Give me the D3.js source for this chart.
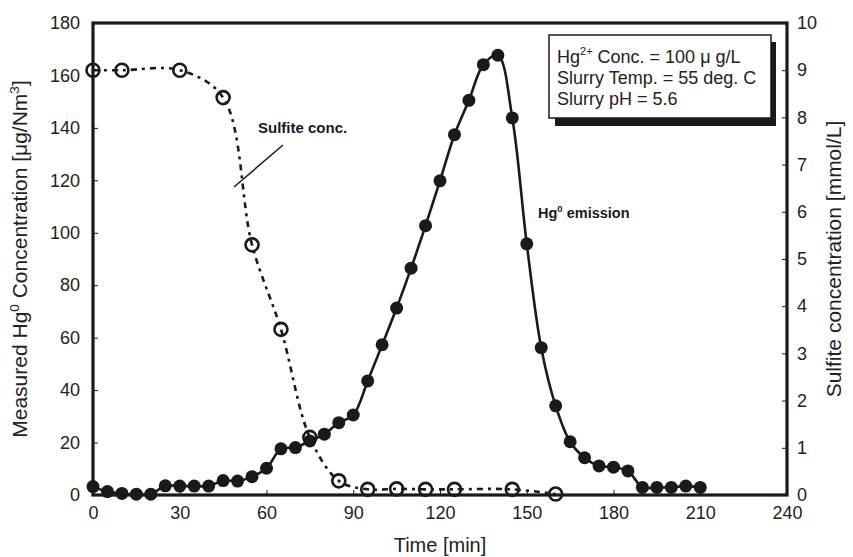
<!DOCTYPE html>
<html>
<head>
<meta charset="utf-8">
<script src="https://cdn.jsdelivr.net/npm/d3@7"></script>
<style>
	body { margin: 0; background: #fff; }
	svg { display: block; font-family: "Liberation Sans", Arial, sans-serif; }
</style>
</head>
<body>
<div id="box"></div>
<script>
// Hg0 emission, every 5 min [ug/Nm3]
const hgTime = d3.range(0, 215, 5);
const hgConc = [3.2, 1.3, 0.6, 0.3, 0.3, 3.5, 3.4, 3.4, 3.4, 5.5, 5.3, 7.0, 10.2, 17.6, 18.1, 20.6, 23.2, 27.6, 30.5,
	43.5, 57.3, 71.3, 86.5, 102.7, 119.8, 137.4, 150.5, 164.1, 167.7, 143.8, 95.8, 56.2, 34.0, 20.3, 14.2, 11.1,
	10.6, 9.2, 2.9, 2.9, 2.9, 3.4, 2.9];

// sulfite concentration [mmol/L]
const soTime = [0, 10, 30, 45, 55, 65, 75, 85, 95, 105, 115, 125, 145, 160];
const soConc = [9.0, 9.0, 9.0, 8.42, 5.30, 3.51, 1.22, 0.30, 0.12, 0.13, 0.12, 0.12, 0.12, 0.02];

const xTicks = [0, 30, 60, 90, 120, 150, 180, 210, 240];
const yLeftTicks = [0, 20, 40, 60, 80, 100, 120, 140, 160, 180];
const yRightTicks = [0, 1, 2, 3, 4, 5, 6, 7, 8, 9, 10];

const infoLines = [
	['Hg', '2+', ' Conc. = 100 μ g/L'],
	['Slurry Temp. = 55 deg. C'],
	['Slurry pH = 5.6'],
];

const width = 853;
const height = 557;
const marginLeft = 93;
const marginRight = 66;
const marginTop = 23;
const marginBottom = 62;
const ink = '#1a1a1a';

const x = d3.scaleLinear([0, 240], [marginLeft, width - marginRight]);
const yL = d3.scaleLinear([0, 180], [height - marginBottom, marginTop]);
const yR = d3.scaleLinear([0, 10], [height - marginBottom, marginTop]);

const svg = d3.select('#box').append('svg')
	.attr('width', width)
	.attr('height', height)
	.attr('viewBox', [0, 0, width, height]);

const styleAxis = g => {
	g.select('.domain').remove();
	g.selectAll('.tick line').attr('stroke', ink).attr('stroke-width', 1);
	g.selectAll('.tick text').attr('fill', '#222').attr('font-size', 18)
		.attr('font-family', '"Liberation Sans", Arial, sans-serif');
};

svg.append('g')
	.attr('transform', `translate(0,${height - marginBottom})`)
	.call(d3.axisBottom(x).tickValues(xTicks).tickSizeInner(-5).tickSizeOuter(0).tickPadding(11))
	.call(styleAxis);

svg.append('g')
	.attr('transform', `translate(${marginLeft},0)`)
	.call(d3.axisLeft(yL).tickValues(yLeftTicks).tickSizeInner(-5).tickSizeOuter(0).tickPadding(13))
	.call(styleAxis);

svg.append('g')
	.attr('transform', `translate(${width - marginRight},0)`)
	.call(d3.axisRight(yR).tickValues(yRightTicks).tickSizeInner(-5).tickSizeOuter(0).tickPadding(10))
	.call(styleAxis);

// frame
svg.append('rect')
	.attr('x', marginLeft)
	.attr('y', marginTop)
	.attr('width', width - marginLeft - marginRight)
	.attr('height', height - marginTop - marginBottom)
	.attr('fill', 'none')
	.attr('stroke', ink)
	.attr('stroke-width', 3.2);

// sulfite line
const soLine = d3.line()
	.curve(d3.curveCatmullRom.alpha(0.5))
	.x((_, i) => x(soTime[i]))
	.y(d => yR(d));

svg.append('path')
	.attr('fill', 'none')
	.attr('stroke', ink)
	.attr('stroke-width', 2.6)
	.attr('stroke-dasharray', '6,5,3,5')
	.attr('d', soLine(soConc));

svg.append('g')
	.selectAll('circle')
	.data(soConc)
	.join('circle')
	.attr('cx', (_, i) => x(soTime[i]))
	.attr('cy', d => yR(d))
	.attr('r', 6.5)
	.attr('fill', 'none')
	.attr('stroke', ink)
	.attr('stroke-width', 2.6);

// Hg0 line
const hgLine = d3.line()
	.curve(d3.curveCatmullRom.alpha(0.5))
	.x((_, i) => x(hgTime[i]))
	.y(d => yL(d));

svg.append('path')
	.attr('fill', 'none')
	.attr('stroke', ink)
	.attr('stroke-width', 2.6)
	.attr('d', hgLine(hgConc));

svg.append('g')
	.selectAll('circle')
	.data(hgConc)
	.join('circle')
	.attr('cx', (_, i) => x(hgTime[i]))
	.attr('cy', d => yL(d))
	.attr('r', 6.5)
	.attr('fill', ink);

// annotations
svg.append('line')
	.attr('x1', 283).attr('y1', 145)
	.attr('x2', 234).attr('y2', 187)
	.attr('stroke', ink).attr('stroke-width', 1.5);

svg.append('text')
	.attr('x', 258).attr('y', 133)
	.attr('font-size', 15).attr('font-weight', 'bold').attr('fill', ink)
	.text('Sulfite conc.');

const hgLabel = svg.append('text')
	.attr('x', 538).attr('y', 218)
	.attr('font-size', 14.5).attr('font-weight', 'bold').attr('fill', ink);
hgLabel.append('tspan').text('Hg');
hgLabel.append('tspan').attr('font-size', 9.5).attr('dy', -6).text('0');
hgLabel.append('tspan').attr('dy', 6).text(' emission');

// info box
svg.append('rect')
	.attr('x', 555).attr('y', 42)
	.attr('width', 221).attr('height', 84)
	.attr('fill', ink);
svg.append('rect')
	.attr('x', 549).attr('y', 35)
	.attr('width', 222).attr('height', 83)
	.attr('fill', '#fff')
	.attr('stroke', ink)
	.attr('stroke-width', 1.5);

const info = svg.append('g').attr('font-size', 18).attr('fill', '#222');
infoLines.forEach((parts, i) => {
	const t = info.append('text').attr('x', 557).attr('y', 63 + i * 21);
	if (parts.length === 3) {
		t.append('tspan').text(parts[0]);
		t.append('tspan').attr('font-size', 11).attr('dy', -8).text(parts[1]);
		t.append('tspan').attr('dy', 8).text(parts[2]);
	} else {
		t.text(parts[0]);
	}
});

// axis titles
svg.append('text')
	.attr('x', (marginLeft + width - marginRight) / 2).attr('y', 552)
	.attr('text-anchor', 'middle').attr('font-size', 20).attr('fill', '#222')
	.text('Time [min]');

const yTitle = svg.append('text')
	.attr('transform', `translate(27,${(marginTop + height - marginBottom) / 2}) rotate(-90)`)
	.attr('text-anchor', 'middle').attr('font-size', 21).attr('fill', '#222');
yTitle.append('tspan').text('Measured Hg');
yTitle.append('tspan').attr('font-size', 13.5).attr('dy', -8).text('0');
yTitle.append('tspan').attr('dy', 8).text(' Concentration [μg/Nm');
yTitle.append('tspan').attr('font-size', 13.5).attr('dy', -8).text('3');
yTitle.append('tspan').attr('dy', 8).text(']');

svg.append('text')
	.attr('transform', `translate(841,${(marginTop + height - marginBottom) / 2}) rotate(-90)`)
	.attr('text-anchor', 'middle').attr('font-size', 21).attr('fill', '#222')
	.text('Sulfite concentration [mmol/L]');
</script>
</body>
</html>
